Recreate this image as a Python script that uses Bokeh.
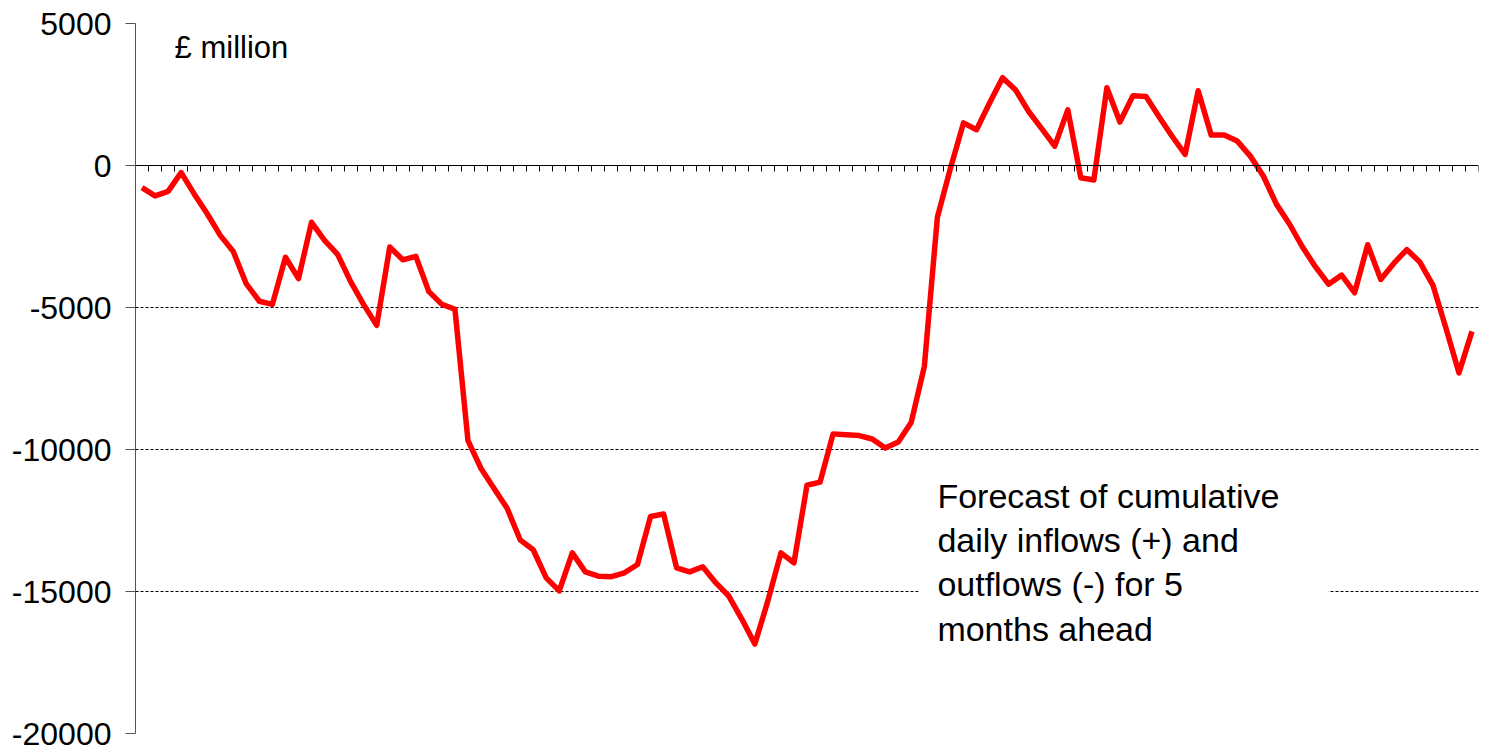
from bokeh.plotting import figure
from bokeh.models import Range1d, FixedTicker, Label, BoxAnnotation
from bokeh.embed import file_html
from bokeh.resources import INLINE

# Business days ahead (categories) and cumulative forecast flows, £ million
days = list(range(1, 104))
cumulative_flows = [
    -780, -1070, -910, -250, -1000, -1700, -2460, -3030, -4170, -4780,
    -4890, -3230, -3980, -2000, -2640, -3130, -4090, -4900, -5630, -2870,
    -3320, -3200, -4440, -4890, -5060, -9690, -10670, -11370, -12070, -13180,
    -13530, -14520, -14980, -13640, -14310, -14460, -14480, -14340, -14050, -12360,
    -12270, -14170, -14310, -14130, -14690, -15160, -15970, -16850, -15330, -13640,
    -13990, -11260, -11150, -9450, -9480, -9510, -9630, -9950, -9740, -9040,
    -7070, -1820, -100, 1500, 1260, 2200, 3090, 2660, 1900, 1300,
    680, 1960, -430, -510, 2740, 1530, 2460, 2430, 1720, 1030,
    390, 2630, 1070, 1070, 860, 330, -370, -1360, -2060, -2870,
    -3570, -4180, -3860, -4480, -2790, -4010, -3450, -2960, -3400, -4210,
    -5720, -7300, -5840,
]
y_ticks = [-20000, -15000, -10000, -5000, 0, 5000]
y_tick_labels = ["-20000", "-15000", "-10000", "-5000", "0", "5000"]
unit_label = "£ million"
note_text = "Forecast of cumulative\ndaily inflows (+) and\noutflows (-) for 5\nmonths ahead"

FONT = "Liberation Sans"

p = figure(width=1486, height=751, output_backend="svg", toolbar_location=None,
           x_range=Range1d(0, len(days)), y_range=Range1d(y_ticks[0], y_ticks[-1]),
           min_border_left=135, min_border_right=8, min_border_top=23, min_border_bottom=18)
p.outline_line_color = None
p.background_fill_color = "white"
p.border_fill_color = "white"

# y axis
p.yaxis.ticker = FixedTicker(ticks=y_ticks)
p.yaxis.major_label_overrides = {t: s for t, s in zip(y_ticks, y_tick_labels)}
p.yaxis.major_label_text_font = FONT
p.yaxis.major_label_text_font_size = "32px"
p.yaxis.major_label_text_color = "black"
p.yaxis.major_tick_in = 0
p.yaxis.major_tick_out = 10
p.yaxis.minor_tick_line_color = None
p.yaxis.axis_line_color = "#555555"
p.yaxis.major_tick_line_color = "#555555"
p.yaxis.major_label_standoff = 14

# x axis drawn along zero
p.xaxis.fixed_location = 0
p.xaxis.ticker = FixedTicker(ticks=days)
p.xaxis.major_label_text_color = None
p.xaxis.major_label_text_font_size = "1px"
p.xaxis.major_tick_in = 0
p.xaxis.major_tick_out = 6
p.xaxis.minor_tick_line_color = None
p.xaxis.axis_line_color = "black"
p.xaxis.major_tick_line_color = "black"

# grids
p.xgrid.grid_line_color = None
p.ygrid.ticker = FixedTicker(ticks=[t for t in y_ticks if t != 0])
p.ygrid.grid_line_color = "black"
p.ygrid.grid_line_dash = "3 2"
p.ygrid.grid_line_width = 1

xs = [d - 0.5 for d in days]
p.line(xs, cumulative_flows, line_color="#ff0000", line_width=5.5, line_join="round")

# white box behind note
p.add_layout(BoxAnnotation(left=60.05, right=91.5, top=-10500, bottom=-17500,
                           fill_color="white", fill_alpha=1.0, line_color=None, level="underlay"))

p.add_layout(Label(x=3.0, y=4170, text=unit_label, text_font=FONT, text_font_size="31px",
                   text_baseline="middle", text_color="black"))
p.add_layout(Label(x=61.5, y=-10980, text=note_text, text_font=FONT, text_font_size="34px",
                   text_baseline="top", text_color="black", text_line_height=1.16))

open("out.html", "w").write(file_html(p, INLINE))
